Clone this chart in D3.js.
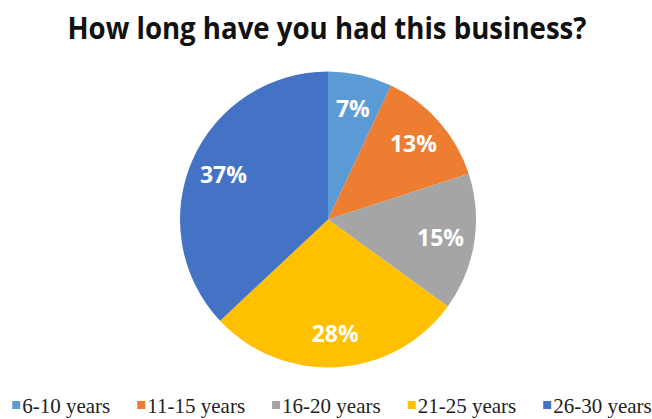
<html>
<head>
    <style>
        body {
            margin: 0;
            background: white;
        }
        svg {
            display: block;
        }
    </style>
    <script src="https://cdn.jsdelivr.net/npm/d3@7"></script>
</head>
<body>
  <svg id="pieChart"></svg>
</body>
<script>
// data
let categories = ["6-10 years", "11-15 years", "16-20 years", "21-25 years", "26-30 years"]
let percents = [7, 13, 15, 28, 37]
let colours = ["#5B9BD5", "#ED7D31", "#A5A5A5", "#FFC000", "#4472C4"]
let title = "How long have you had this business?"

let width = 652
let height = 419

let svg = d3.select("#pieChart")
    .attr("width", width)
    .attr("height", height)

// title, squeezed a bit since Calibri isn't around
svg.append("text")
    .attr("x", 327)
    .attr("y", 39)
    .attr("text-anchor", "middle")
    .attr("font-family", "'Open Sans', sans-serif")
    .attr("font-weight", "bold")
    .attr("font-size", 30)
    .attr("fill", "#111")
    .attr("textLength", 519)
    .attr("lengthAdjust", "spacingAndGlyphs")
    .text(title)

let radius = 148
let cx = 328
let cy = 219.5

let colour = d3.scaleOrdinal().domain(categories).range(colours)

let pie = d3.pie().sort(null).value(d => d.value)
let slices = pie(categories.map((c, i) => ({name: c, value: percents[i]})))

let arc = d3.arc().innerRadius(0).outerRadius(radius)
let labelArc = d3.arc().innerRadius(radius * 0.77).outerRadius(radius * 0.77)

let g = svg.append("g").attr("transform", `translate(${cx},${cy})`)

g.selectAll("path").data(slices)
    .enter().append("path")
    .attr("d", arc)
    .attr("fill", d => colour(d.data.name))

g.selectAll("text").data(slices)
    .enter().append("text")
    .attr("transform", d => `translate(${labelArc.centroid(d)})`)
    .attr("text-anchor", "middle")
    .attr("dy", "0.36em")
    .attr("font-family", "'Open Sans', sans-serif")
    .attr("font-weight", "bold")
    .attr("font-size", 23)
    .attr("fill", "white")
    .text(d => d.data.value + "%")

// legend along the bottom
let legend = svg.append("g")
let sq = 8
let gapAfterSquare = 2
let gapBetween = 27
let x = 0
categories.forEach((c, i) => {
    let item = legend.append("g").attr("transform", `translate(${x},0)`)
    item.append("rect")
        .attr("x", 0)
        .attr("y", -12)
        .attr("width", sq)
        .attr("height", sq)
        .attr("fill", colours[i])
    let t = item.append("text")
        .attr("x", sq + gapAfterSquare)
        .attr("y", 0)
        .attr("font-family", "'Liberation Serif', 'Times New Roman', serif")
        .attr("font-size", 21)
        .attr("fill", "#222")
        .text(c)
    x += sq + gapAfterSquare + t.node().getComputedTextLength() + gapBetween
})
let legendWidth = x - gapBetween
legend.attr("transform", `translate(${332 - legendWidth / 2},${413})`)

</script>
</html>
